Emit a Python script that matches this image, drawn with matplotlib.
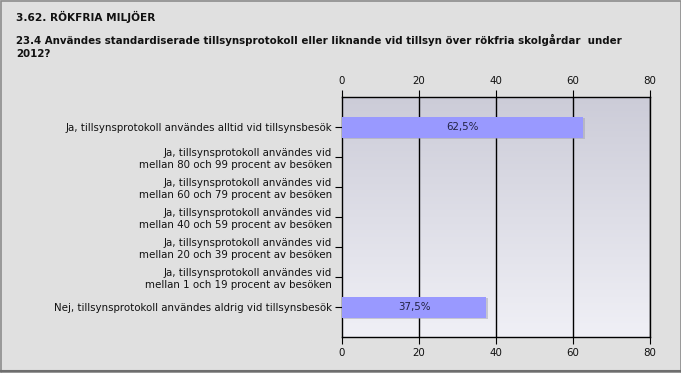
import numpy as np
import matplotlib.pyplot as plt
from matplotlib.patches import Rectangle

categories = [
    "Ja, tillsynsprotokoll användes alltid vid tillsynsbesök",
    "Ja, tillsynsprotokoll användes vid\nmellan 80 och 99 procent av besöken",
    "Ja, tillsynsprotokoll användes vid\nmellan 60 och 79 procent av besöken",
    "Ja, tillsynsprotokoll användes vid\nmellan 40 och 59 procent av besöken",
    "Ja, tillsynsprotokoll användes vid\nmellan 20 och 39 procent av besöken",
    "Ja, tillsynsprotokoll användes vid\nmellan 1 och 19 procent av besöken",
    "Nej, tillsynsprotokoll användes aldrig vid tillsynsbesök",
]
values = [62.5, 0, 0, 0, 0, 0, 37.5]
value_labels = ["62,5%", "", "", "", "", "", "37,5%"]
x_ticks = [0, 20, 40, 60, 80]

plt.rcParams['font.family'] = ['DejaVu Sans']

W, H = 681, 373
fig = plt.figure(figsize=(W / 100, H / 100), dpi=100)
fig.patch.set_facecolor('#e0e0e0')

# outer frame
fig.add_artist(Rectangle((0.5 / W, 0.5 / H), (W - 1) / W, (H - 1) / H,
                         transform=fig.transFigure, fill=False,
                         edgecolor='#8c8c8c', linewidth=1.2))
fig.add_artist(plt.Line2D([0, 1], [2.5 / H, 2.5 / H], transform=fig.transFigure,
                          color='#6e6e6e', linewidth=1.5))

fig.text(16 / W, 1 - 17 / H, "3.62. RÖKFRIA MILJÖER", fontsize=7.6, fontweight='bold',
         va='center', ha='left', color='#111111')
fig.text(16 / W, 1 - 46.5 / H,
         "23.4 Användes standardiserade tillsynsprotokoll eller liknande vid tillsyn över rökfria skolgårdar  under\n2012?",
         fontsize=7.4, fontweight='bold', va='center', ha='left', color='#111111',
         linespacing=1.35)

left, right, top, bottom = 342, 650, 97, 337
ax = fig.add_axes([left / W, 1 - bottom / H, (right - left) / W, (bottom - top) / H])

y = np.arange(len(categories))
ax.set_xlim(0, 80)
ax.set_ylim(len(categories), -1)

# gradient background
grad = np.linspace(0, 1, 256).reshape(256, 1, 1)
top_c = np.array([204, 204, 216]) / 255
bot_c = np.array([240, 240, 246]) / 255
img = top_c + (bot_c - top_c) * grad
ax.imshow(img, extent=[0, 80, len(categories), -1], aspect='auto', zorder=0)

for xv in x_ticks[1:]:
    ax.axvline(xv, color='black', linewidth=1, zorder=1)

# shadows
for yi, v in zip(y, values):
    if v > 0:
        ax.barh(yi + 0.06, v, height=0.7, left=0.5, color='#a0a0b0', alpha=0.5, zorder=2)
ax.barh(y, values, height=0.7, color='#9999ff', zorder=3)
for yi, v, lab in zip(y, values, value_labels):
    if lab:
        ax.text(v / 2, yi, lab, ha='center', va='center', fontsize=7.4, color='#222244', zorder=4)

ax.set_yticks(y)
ax.set_yticklabels(categories, fontsize=7.4, color='#111111', linespacing=1.2)
ax.set_xticks(x_ticks)
ax.tick_params(axis='x', top=True, labeltop=True, bottom=True, labelbottom=True,
               labelsize=7.4, length=5, color='black', labelcolor='#111111', pad=3)
ax.tick_params(axis='y', length=5, pad=2)
for s in ax.spines.values():
    s.set_color('black')
    s.set_linewidth(1)

fig.savefig('out.png', dpi=100, facecolor=fig.get_facecolor())
